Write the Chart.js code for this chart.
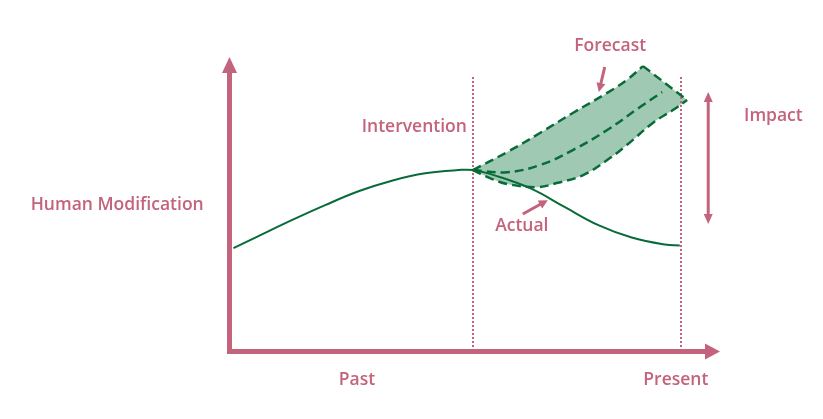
<!DOCTYPE html>
<html>
<head>
<meta charset="utf-8">
<script src="https://cdn.jsdelivr.net/npm/chart.js@4"></script>
<style>
  html, body { margin: 0; padding: 0; background: #ffffff; }
  #wrap { width: 823px; height: 419px; }
</style>
</head>
<body>
<div id="wrap"><canvas id="c" width="823" height="419"></canvas></div>
<script>
// ---- data (abstract units: time 0..100, modification 0..100) ----
const axisLabels = ['Past', 'Present'];
const yAxisLabel = 'Human Modification';
const interventionTime = 49.7;
const presentTime = 92.0;

const actualX = [0.8, 5.9, 12.7, 19.5, 26.3, 33.1, 39.9, 46.6, 49.7, 54.8, 61.6, 68.4, 75.2, 82.0, 88.8, 91.8];
const actualY = [35.1, 39.2, 44.6, 49.7, 54.4, 58.0, 60.5, 61.6, 61.6, 59.4, 55.2, 49.0, 42.9, 38.7, 36.3, 36.0];

const forecastMidX = [49.6, 56.6, 63.3, 70.0, 77.0, 83.7, 88.2];
const forecastMidY = [61.6, 60.9, 63.3, 68.4, 75.2, 83.0, 88.1];

const forecastHighX = [49.6, 56.6, 63.3, 70.0, 77.0, 81.0, 84.3];
const forecastHighY = [61.6, 67.7, 74.2, 81.0, 87.8, 92.2, 96.9];

const forecastEdgeX = [84.3, 93.3];
const forecastEdgeY = [96.9, 85.4];

const forecastLowX = [49.6, 53.1, 56.6, 62.7, 66.7, 72.1, 77.0, 81.0, 86.3, 90.4, 93.3];
const forecastLowY = [61.6, 58.9, 56.9, 55.8, 57.2, 59.9, 65.0, 70.1, 77.6, 82.0, 85.4];

// ---- styles ----
const PINK = '#c3637c';
const GREEN = '#086b38';
const FILL = '#a0c9b4';
const FONT = '"Open Sans", "Liberation Sans", sans-serif';

const pts = (xs, ys) => xs.map((x, i) => ({ x: x, y: ys[i] }));

function arrowHead(ctx, x1, y1, x2, y2, len, half) {
  const a = Math.atan2(y2 - y1, x2 - x1);
  ctx.beginPath();
  ctx.moveTo(x2, y2);
  ctx.lineTo(x2 - len * Math.cos(a) + half * Math.sin(a), y2 - len * Math.sin(a) - half * Math.cos(a));
  ctx.lineTo(x2 - len * Math.cos(a) - half * Math.sin(a), y2 - len * Math.sin(a) + half * Math.cos(a));
  ctx.closePath();
  ctx.fill();
}

function arrow(ctx, x1, y1, x2, y2, w, len, half) {
  const a = Math.atan2(y2 - y1, x2 - x1);
  ctx.lineWidth = w;
  ctx.beginPath();
  ctx.moveTo(x1, y1);
  ctx.lineTo(x2 - (len - 1) * Math.cos(a), y2 - (len - 1) * Math.sin(a));
  ctx.stroke();
  arrowHead(ctx, x1, y1, x2, y2, len, half);
}

const diagramPlugin = {
  id: 'diagram',
  beforeDatasetsDraw(chart) {
    const ctx = chart.ctx;
    const xs = chart.scales.x, ys = chart.scales.y;
    // dotted vertical guides
    ctx.save();
    ctx.strokeStyle = PINK;
    ctx.lineWidth = 2;
    ctx.setLineDash([2, 2]);
    [interventionTime, presentTime].forEach(t => {
      const px = Math.round(xs.getPixelForValue(t));
      ctx.beginPath();
      ctx.moveTo(px, ys.getPixelForValue(93.2));
      ctx.lineTo(px, ys.getPixelForValue(1.5));
      ctx.stroke();
    });
    ctx.restore();
  },
  afterDraw(chart) {
    const ctx = chart.ctx;
    const xs = chart.scales.x, ys = chart.scales.y;
    const X = v => xs.getPixelForValue(v);
    const Y = v => ys.getPixelForValue(v);
    const ca = chart.chartArea;
    ctx.save();
    ctx.fillStyle = PINK;
    ctx.strokeStyle = PINK;
    // axes
    const ox = X(0), oy = Y(0);
    ctx.fillRect(ox - 2.5, ca.top + 15.5, 5, oy + 2.5 - (ca.top + 15.5));
    ctx.fillRect(ox - 2.5, oy - 2.5, ca.right - 14.5 - (ox - 2.5), 5);
    arrowHead(ctx, ox, oy, ox, ca.top, 16, 7.5);
    arrowHead(ctx, ox, oy, ca.right, oy, 15, 8);
    // impact double arrow
    const ix = X(97.6);
    ctx.lineWidth = 3;
    ctx.beginPath();
    ctx.moveTo(ix, Y(88.1) + 8);
    ctx.lineTo(ix, Y(43.3) - 8);
    ctx.stroke();
    arrowHead(ctx, ix, Y(43.3), ix, Y(88.1), 10, 4.5);
    arrowHead(ctx, ix, Y(88.1), ix, Y(43.3), 10, 4.5);
    // pointer arrows
    ctx.lineCap = 'butt';
    arrow(ctx, X(76.5), Y(96.6), X(75.3), Y(88.1), 3, 9, 4.5);
    arrow(ctx, X(59.8), Y(46.7), X(64.9), Y(51.4), 3, 9, 4.5);
    // texts
    ctx.font = '600 17.5px ' + FONT;
    ctx.textBaseline = 'middle';
    ctx.textAlign = 'center';
    ctx.fillText('Forecast', X(77.6), Y(103.8));
    ctx.fillText('Actual', X(59.6), Y(42.6));
    ctx.fillText(yAxisLabel, X(-22.9), Y(49.7));
    ctx.fillText(axisLabels[0], X(26.0), Y(-9.7));
    ctx.fillText(axisLabels[1], X(91.0), Y(-9.7));
    ctx.textAlign = 'right';
    ctx.fillText('Intervention', X(48.4), Y(76.2));
    ctx.textAlign = 'left';
    ctx.fillText('Impact', X(104.9), Y(79.9));
    ctx.restore();
  }
};

const dashed = { borderColor: GREEN, borderWidth: 2.5, borderDash: [9, 5], pointRadius: 0, tension: 0.4 };

new Chart(document.getElementById('c'), {
  type: 'line',
  data: {
    datasets: [
      { label: 'Actual', data: pts(actualX, actualY), borderColor: GREEN, borderWidth: 2, pointRadius: 0, tension: 0.4, fill: false },
      Object.assign({ label: 'Forecast', data: pts(forecastMidX, forecastMidY), fill: false }, dashed),
      Object.assign({ label: 'Forecast high', data: pts(forecastHighX, forecastHighY), fill: { target: 4 }, backgroundColor: FILL }, dashed),
      Object.assign({ label: 'Forecast edge', data: pts(forecastEdgeX, forecastEdgeY), fill: { target: 4 }, backgroundColor: FILL }, dashed, { tension: 0 }),
      Object.assign({ label: 'Forecast low', data: pts(forecastLowX, forecastLowY), fill: false }, dashed)
    ]
  },
  options: {
    responsive: false,
    animation: false,
    devicePixelRatio: 1,
    layout: { padding: { left: 229.5, right: 103, top: 57, bottom: 67.5 } },
    scales: {
      x: { type: 'linear', min: 0, max: 100, display: false },
      y: { type: 'linear', min: 0, max: 100, display: false }
    },
    plugins: {
      legend: { display: false },
      tooltip: { enabled: false },
      filler: { drawTime: 'beforeDatasetsDraw', propagate: false }
    }
  },
  plugins: [diagramPlugin]
});
</script>
</body>
</html>
